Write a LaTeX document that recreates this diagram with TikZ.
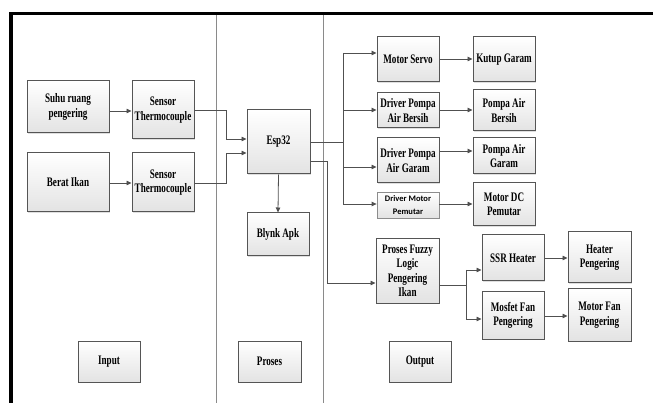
\documentclass[tikz,border=0pt]{standalone}
\usepackage{fontspec}
\usetikzlibrary{arrows.meta,shadows}
\newfontfamily\bx[FakeStretch=0.7]{Liberation Serif}
\newfontfamily\cb{Carlito}
\definecolor{edge}{HTML}{555555}
\definecolor{wire}{HTML}{505050}
\definecolor{sep}{HTML}{8A8A8A}
\tikzset{
  box/.style={draw=edge, line width=1pt, top color=white, bottom color=black!11,
    align=center, inner sep=1pt, font=\bx\bfseries\fontsize{13}{14.5}\selectfont,
    drop shadow={shadow xshift=1pt, shadow yshift=-1pt, opacity=0.25}},
  sbox/.style={box, draw=black!45, line width=0.8pt, font=\cb\bfseries\fontsize{8.5}{13}\selectfont},
  arr/.style={draw=wire, line width=0.8pt, -{Triangle[length=5pt,width=4.5pt]}},
  ln/.style={draw=wire, line width=0.8pt}
}
\begin{document}
\begin{tikzpicture}[x=1pt,y=-1pt]
\useasboundingbox (0,0) rectangle (653,403);
% frame
\draw[line width=3.5pt, line join=miter] (660,13.5) -- (11,13.5) -- (11,410);
\draw[sep, line width=0.7pt] (216,15) -- (216,410);
\draw[sep, line width=0.7pt] (323,15) -- (323,410);
% nodes
\node[box, minimum width=82pt, minimum height=52pt] (suhu) at (68,107) {Suhu ruang\\pengering};
\node[box, minimum width=62pt, minimum height=58pt] (sens1) at (163,110) {Sensor\\Thermocouple};
\node[box, minimum width=82pt, minimum height=59pt] (berat) at (68,182.5) {Berat Ikan};
\node[box, minimum width=62pt, minimum height=59pt] (sens2) at (163,182.5) {Sensor\\Thermocouple};
\node[box, minimum width=63pt, minimum height=64pt] (esp) at (278.5,142) {Esp32};
\node[box, minimum width=62pt, minimum height=43pt] (blynk) at (278,234.5) {Blynk Apk};
\node[box, minimum width=62pt, minimum height=45pt] (servo) at (408,59.5) {Motor Servo};
\node[box, minimum width=62pt, minimum height=45pt] (kutup) at (504,59.5) {Kutup Garam};
\node[box, minimum width=62pt, minimum height=35pt] (dpab) at (408,110.5) {Driver Pompa\\Air Bersih};
\node[box, minimum width=62pt, minimum height=41pt] (pab) at (504,110.5) {Pompa Air\\Bersih};
\node[box, minimum width=62pt, minimum height=45pt] (dpag) at (408,160.5) {Driver Pompa\\Air Garam};
\node[box, minimum width=62pt, minimum height=36pt] (pag) at (504,156) {Pompa Air\\Garam};
\node[sbox, minimum width=62pt, minimum height=26pt] (dmp) at (408,205) {Driver Motor\\Pemutar};
\node[box, minimum width=62pt, minimum height=43pt] (mdc) at (504,204.5) {Motor DC\\Pemutar};
\node[box, minimum width=63pt, minimum height=64pt] (fuzzy) at (407.5,271) {Proses Fuzzy\\Logic\\Pengering\\Ikan};
\node[box, minimum width=62pt, minimum height=46pt] (ssr) at (513,258) {SSR Heater};
\node[box, minimum width=63pt, minimum height=51pt] (heater) at (599.5,257.5) {Heater\\Pengering};
\node[box, minimum width=62pt, minimum height=47pt] (mosfet) at (513,315.5) {Mosfet Fan\\Pengering};
\node[box, minimum width=63pt, minimum height=52pt] (mfan) at (599.5,315) {Motor Fan\\Pengering};
\node[box, minimum width=62pt, minimum height=41pt] (input) at (109,361.5) {Input};
\node[box, minimum width=63pt, minimum height=41pt] (proses) at (269.5,361.5) {Proses};
\node[box, minimum width=62pt, minimum height=41pt] (output) at (420,361.5) {Output};
% helper coordinates
\coordinate (j1) at (226,110);
\coordinate (j2) at (226,183);
\coordinate (bus) at (343,142);
\coordinate (j3) at (327,161);
\coordinate (fz) at (466,285);
% connectors
\draw[arr] (suhu.east |- 0,111) -- (sens1.west |- 0,111);
\draw[arr] (berat.east |- 0,183) -- (sens2.west |- 0,183);
\draw[arr] (sens1.east |- j1) -- (j1) -- (j1 |- 0,139) -- (esp.west |- 0,139);
\draw[arr] (sens2.east |- j2) -- (j2) -- (j2 |- 0,153) -- (esp.west |- 0,153);
\draw[arr] (esp.south) -- (blynk.north);
\draw[ln] (esp.east |- bus) -- (bus);
\draw[ln] (bus |- 0,53) -- (bus |- 0,204);
\draw[arr] (bus |- 0,53) -- (servo.west |- 0,53);
\draw[arr] (bus |- 0,110) -- (dpab.west |- 0,110);
\draw[arr] (bus |- 0,167) -- (dpag.west |- 0,167);
\draw[arr] (bus |- 0,204) -- (dmp.west |- 0,204);
\draw[arr] (servo.east |- 0,59) -- (kutup.west |- 0,59);
\draw[arr] (dpab.east |- 0,110) -- (pab.west |- 0,110);
\draw[arr] (dpag.east |- 0,151) -- (pag.west |- 0,151);
\draw[arr] (dmp.east |- 0,204) -- (mdc.west |- 0,204);
\draw[arr] (esp.east |- j3) -- (j3) -- (j3 |- 0,283) -- (fuzzy.west |- 0,283);
\draw[ln] (fuzzy.east |- fz) -- (fz);
\draw[ln] (fz |- 0,270) -- (fz |- 0,319);
\draw[arr] (fz |- 0,270) -- (ssr.west |- 0,270);
\draw[arr] (fz |- 0,319) -- (mosfet.west |- 0,319);
\draw[arr] (ssr.east |- 0,258) -- (heater.west |- 0,258);
\draw[arr] (mosfet.east |- 0,316) -- (mfan.west |- 0,316);
\end{tikzpicture}
\end{document}
